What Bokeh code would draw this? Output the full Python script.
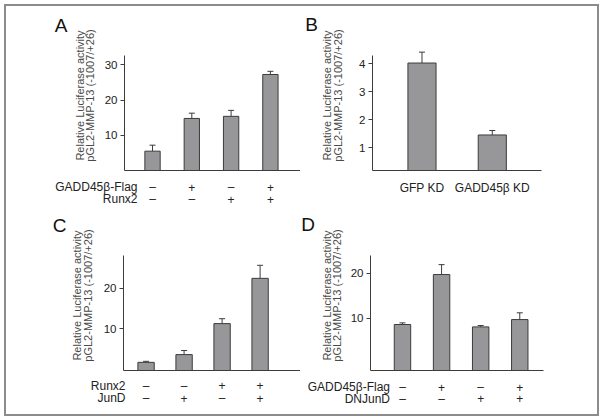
import math
from bokeh.plotting import figure
from bokeh.models import (ColumnDataSource, Whisker, TeeHead, FixedTicker, Range1d)
from bokeh.core.properties import value
from bokeh.layouts import column, row
from bokeh.embed import file_html
from bokeh.resources import INLINE

FONT = "Liberation Sans"
BAR = "#979799"
EDGE = "#3c3c3c"
TXT = "#222222"
LBL = "#4a4a4a"

Y_LABEL_1 = "Relative Luciferase activity"
Y_LABEL_2 = "pGL2-MMP-13 (-1007/+26)"

# ---- Panel A ----
a_rows = ["GADD45β-Flag", "Runx2"]
a_row1 = ["–", "+", "–", "+"]
a_row2 = ["–", "–", "+", "+"]
a_values = [5.5, 14.8, 15.4, 27.3]
a_upper = [7.2, 16.3, 17.1, 28.2]
a_yticks = [10, 20, 30]

# ---- Panel B ----
b_categories = ["GFP KD", "GADD45β KD"]
b_values = [4.03, 1.45]
b_upper = [4.42, 1.61]
b_yticks = [1, 2, 3, 4]

# ---- Panel C ----
c_rows = ["Runx2", "JunD"]
c_row1 = ["–", "–", "+", "+"]
c_row2 = ["–", "+", "–", "+"]
c_values = [1.8, 3.7, 11.3, 22.4]
c_upper = [2.05, 4.7, 12.5, 25.6]
c_yticks = [10, 20]

# ---- Panel D ----
d_rows = ["GADD45β-Flag", "DNJunD"]
d_row1 = ["–", "+", "–", "+"]
d_row2 = ["–", "–", "+", "+"]
d_values = [8.6, 19.7, 8.07, 9.7]
d_upper = [8.96, 21.9, 8.37, 11.2]
d_yticks = [10, 20]


def extend(a0, a1, p0, p1, c0, c1):
    k = (a1 - a0) / (p1 - p0)
    return a0 + (c0 - p0) * k, a0 + (c1 - p0) * k


def panel(letter, values, upper, yticks, xr, yr, canvas, axisbox, bar_w,
          letter_off, label_dx, rows=None, row_texts=None, header_dx=0,
          row_dy=(16.5, 28.5)):
    cl, ct, cr, cb = canvas
    al, at, ar, ab = axisbox
    xs0, xs1 = extend(xr[0], xr[1], al, ar, cl, cr)
    ys0, ys1 = extend(yr[0], yr[1], ab, at, cb, ct)
    p = figure(width=cr - cl, height=cb - ct,
               x_range=Range1d(xs0, xs1), y_range=Range1d(ys0, ys1),
               output_backend="svg", toolbar_location=None,
               min_border=0, min_border_left=0, min_border_right=0,
               min_border_top=0, min_border_bottom=0)
    p.xgrid.visible = False
    p.ygrid.visible = False
    p.outline_line_color = None
    p.background_fill_color = "white"
    p.border_fill_color = "white"

    xs = list(range(1, len(values) + 1))
    src = ColumnDataSource(dict(x=xs, top=values, upper=upper))
    p.vbar(x="x", top="top", bottom=yr[0], width=bar_w, source=src,
           fill_color=BAR, line_color=EDGE, line_width=1)
    p.add_layout(Whisker(source=src, base="x", lower="top", upper="upper",
                         line_color=EDGE, line_width=1,
                         upper_head=TeeHead(size=6, line_color=EDGE, line_width=1),
                         lower_head=None))

    ya = p.yaxis[0]
    ya.fixed_location = xr[0]
    ya.bounds = (yr[0], yr[1])
    ya.ticker = FixedTicker(ticks=yticks)
    ya.major_tick_out = 4
    ya.major_tick_in = 0
    ya.minor_tick_line_color = None
    ya.axis_line_color = EDGE
    ya.major_tick_line_color = EDGE
    ya.major_label_standoff = 3
    ya.major_label_text_font = FONT
    ya.major_label_text_font_size = "11.5px"
    ya.major_label_text_color = TXT

    xa = p.xaxis[0]
    xa.fixed_location = yr[0]
    xa.bounds = (xr[0], xr[1])
    xa.ticker = FixedTicker(ticks=[])
    xa.major_tick_line_color = None
    xa.minor_tick_line_color = None
    xa.axis_line_color = EDGE
    xa.major_label_text_font_size = "0px"

    # panel letter
    p.text(x=[xr[0]], y=[yr[0]], text=[letter], x_offset=letter_off[0],
           y_offset=-letter_off[1], text_font=value(FONT), text_font_size="19px",
           text_color="#111111", text_align="center", text_baseline="middle")
    # two-line y label
    for dx, txt in zip(label_dx, [Y_LABEL_1, Y_LABEL_2]):
        p.text(x=[xr[0]], y=[yr[0]], text=[txt], x_offset=dx, y_offset=-75,
               angle=math.pi / 2, text_font=value(FONT), text_font_size="11px",
               text_color=LBL, text_align="center", text_baseline="middle")

    if rows is not None:
        for dy, head, texts in zip(row_dy, rows, row_texts):
            p.text(x=[xr[0]], y=[yr[0]], text=[head], x_offset=header_dx,
                   y_offset=dy, text_font=value(FONT), text_font_size="12px",
                   text_color=TXT, text_align="right", text_baseline="middle")
            p.text(x=xs, y=[yr[0]] * len(xs), text=texts, y_offset=dy,
                   text_font=value(FONT), text_font_size="12px",
                   text_color=TXT, text_align="center", text_baseline="middle")
    return p, xs


# canvas boxes and axis boxes are in page pixels: (left, top, right, bottom)
pA, _ = panel("A", a_values, a_upper, a_yticks, (0.287, 4.766), (0, 32.7),
              (6, 6, 300, 208), (124, 55, 300, 170), 0.39, (-63.5, 145.5),
              (-45, -34.5), rows=a_rows, row_texts=[a_row1, a_row2],
              header_dx=13)

yB = (0.176, 4.30)
pB, bxs = panel("B", b_values, b_upper, b_yticks, (0.296, 2.70), yB,
                (300, 6, 597, 208), (372, 55, 541, 170), 0.40, (-61, 146),
                (-45.5, -34.5))
pB.text(x=bxs, y=[yB[0]] * len(bxs), text=b_categories, y_offset=17.5,
        text_font=value(FONT), text_font_size="12px", text_color=TXT,
        text_align="center", text_baseline="middle")

pC, _ = panel("C", c_values, c_upper, c_yticks, (0.406, 5.063), (-0.2, 28.0),
              (6, 208, 300, 414), (123, 255, 300, 370), 0.43, (-64, 145),
              (-47, -36), rows=c_rows, row_texts=[c_row1, c_row2],
              header_dx=2, row_dy=(15, 27.5))

pD, _ = panel("D", d_values, d_upper, d_yticks, (0.182, 4.607), (-1.62, 23.93),
              (300, 208, 597, 414), (370, 255, 543, 370), 0.42, (-62.5, 146),
              (-44, -34), rows=d_rows, row_texts=[d_row1, d_row2],
              header_dx=19.5, row_dy=(16.5, 28.3))

layout = column(row(pA, pB), row(pC, pD),
                styles={"border": "2px solid #8c8c8c", "margin": "4px 0 0 4px"})

open("out.html", "w").write(file_html(layout, INLINE))
